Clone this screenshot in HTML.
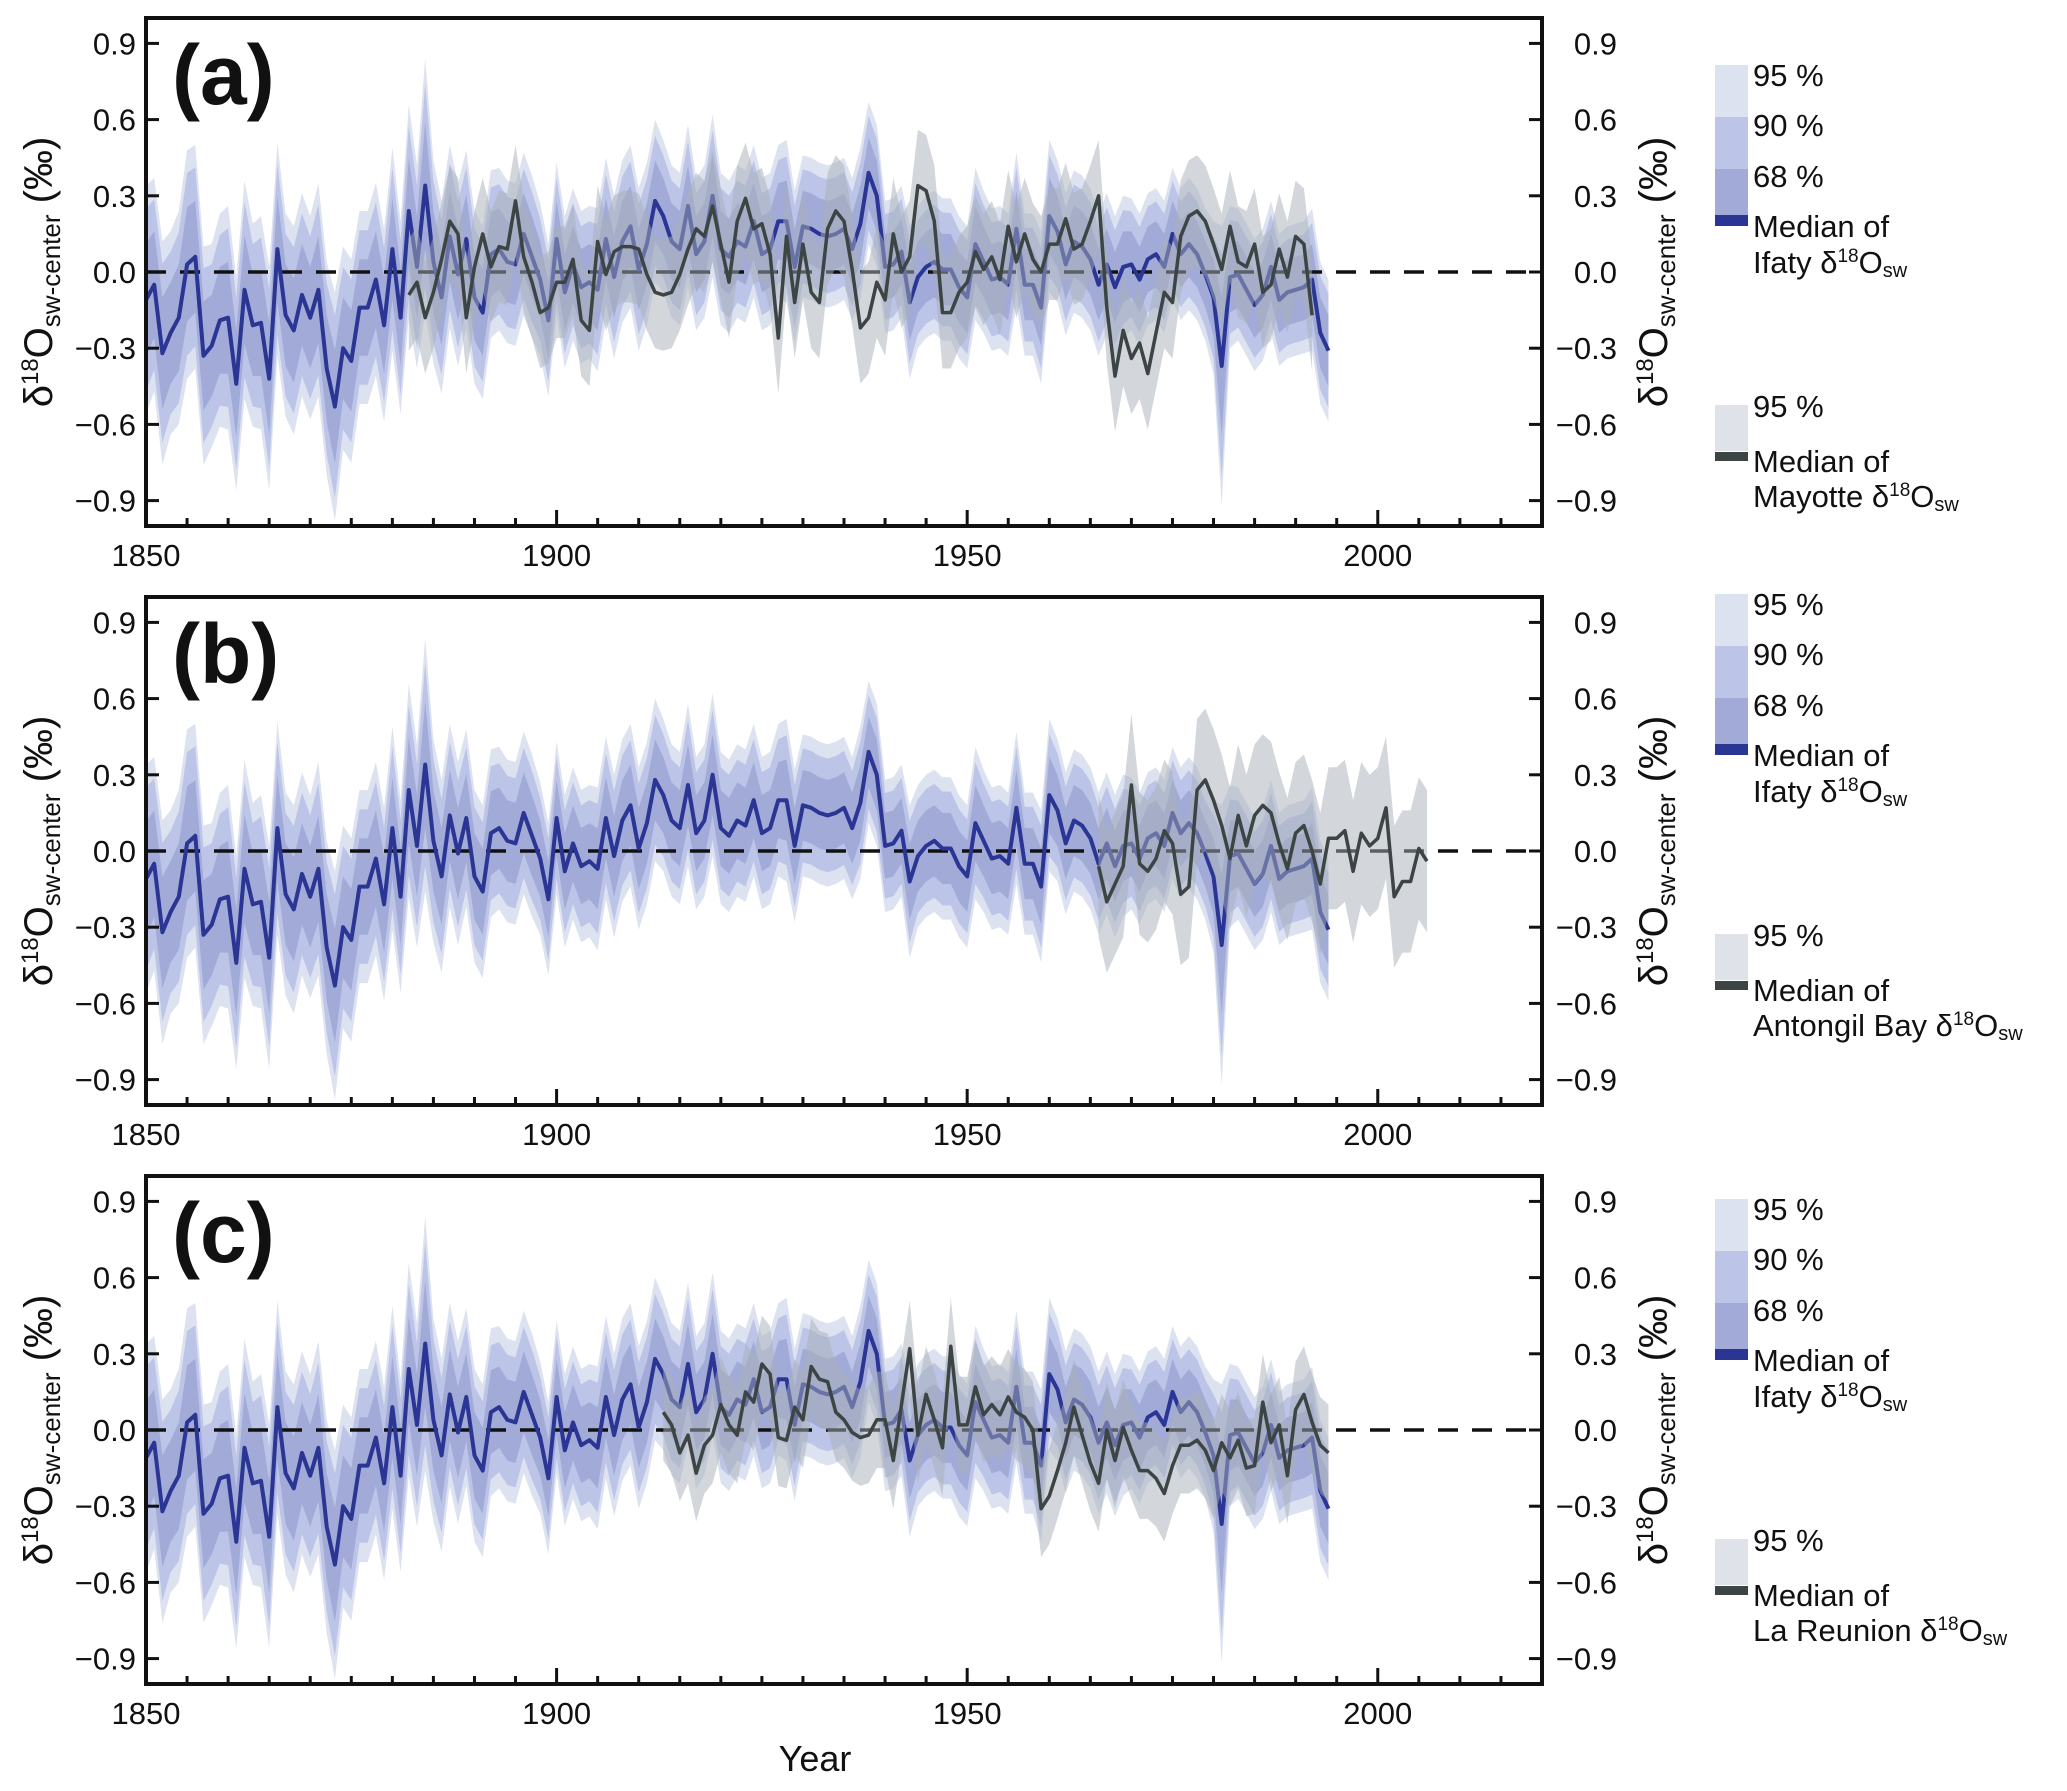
<!DOCTYPE html>
<html><head><meta charset="utf-8"><style>
html,body{margin:0;padding:0;background:#fff;}
svg{display:block;font-family:"Liberation Sans",Arial,sans-serif;}
</style></head><body>
<svg id="chart" width="2067" height="1791" viewBox="0 0 2067 1791" xmlns="http://www.w3.org/2000/svg"></svg>
<script>
// ---- data ----
const ifatyStart = 1850;
const ifatyMedian = [
-0.11,-0.05,-0.32,-0.24,-0.18,0.03,0.06,-0.33,-0.29,-0.19,
-0.18,-0.44,-0.07,-0.21,-0.20,-0.42,0.09,-0.17,-0.23,-0.09,
-0.18,-0.07,-0.38,-0.53,-0.30,-0.35,-0.14,-0.14,-0.03,-0.21,
0.09,-0.18,0.24,0.02,0.34,0.04,-0.10,0.14,-0.01,0.13,
-0.10,-0.16,0.07,0.09,0.04,0.03,0.15,0.06,-0.03,-0.19,
0.13,-0.08,0.03,-0.06,-0.04,-0.07,0.13,-0.02,0.12,0.18,
0.01,0.11,0.28,0.22,0.12,0.09,0.26,0.07,0.12,0.30,
0.09,0.06,0.12,0.10,0.20,0.07,0.09,0.20,0.20,0.02,
0.18,0.17,0.15,0.14,0.15,0.17,0.09,0.19,0.39,0.30,
0.02,0.03,0.08,-0.12,-0.02,0.02,0.04,0.01,0.01,-0.06,
-0.10,0.11,0.04,-0.03,-0.02,-0.05,0.17,-0.05,-0.05,-0.14,
0.22,0.16,0.03,0.12,0.10,0.05,-0.05,0.03,-0.06,0.02,
0.03,-0.03,0.05,0.07,0.02,0.15,0.07,0.11,0.07,-0.01,
-0.10,-0.37,-0.02,-0.01,-0.07,-0.13,-0.09,0.02,-0.11,-0.08,
-0.07,-0.06,-0.03,-0.24,-0.31];
const ifatyHalf95 = [
.45,.42,.44,.40,.42,.45,.44,.43,.40,.42,
.44,.42,.43,.40,.42,.44,.42,.40,.41,.40,
.40,.42,.42,.45,.40,.40,.38,.38,.38,.38,
.40,.38,.42,.40,.50,.40,.38,.36,.36,.35,
.34,.34,.33,.32,.32,.32,.32,.32,.30,.30,
.30,.30,.30,.30,.30,.32,.32,.32,.32,.32,
.32,.32,.32,.30,.30,.30,.32,.30,.30,.32,
.30,.30,.30,.30,.30,.30,.30,.30,.32,.30,
.28,.28,.28,.28,.28,.28,.28,.30,.28,.28,
.26,.26,.26,.30,.28,.28,.28,.28,.28,.28,
.28,.30,.28,.28,.28,.28,.30,.28,.28,.30,
.30,.28,.28,.28,.28,.28,.28,.28,.28,.28,
.26,.26,.26,.26,.26,.26,.26,.26,.26,.26,
.30,.55,.28,.26,.26,.26,.26,.26,.26,.26,
.26,.26,.28,.28,.28];
const band90Ratio = 0.8;
const band68Ratio = 0.5;

const mayotteStart = 1882;
const mayotteMedian = [
-0.09,-0.04,-0.18,-0.08,0.05,0.20,0.15,-0.18,
0.02,0.15,0.02,0.10,0.09,0.28,0.06,-0.04,-0.16,-0.14,
-0.04,-0.04,0.05,-0.19,-0.23,0.12,-0.01,0.08,0.10,0.10,
0.09,-0.01,-0.08,-0.09,-0.08,-0.01,0.09,0.17,0.14,0.26,
0.11,-0.04,0.20,0.29,0.17,0.19,0.07,-0.26,0.14,-0.12,
0.11,-0.08,-0.12,0.17,0.24,0.20,0.01,-0.22,-0.18,-0.04,
-0.11,0.15,0.00,0.06,0.34,0.32,0.20,-0.16,-0.16,-0.08,
-0.04,0.08,0.01,0.06,-0.03,0.18,0.04,0.15,0.05,0.00,
0.11,0.11,0.21,0.09,0.11,0.20,0.30,-0.14,-0.41,-0.23,
-0.34,-0.28,-0.40,-0.24,-0.08,-0.12,0.14,0.22,0.24,0.20,
0.11,0.01,0.18,0.04,0.02,0.11,-0.08,-0.05,0.09,-0.02,
0.14,0.11,-0.17];
const mayotteHalf95 = 0.22;

const antongilStart = 1966;
const antongilMedian = [
-0.06,-0.20,-0.13,-0.06,0.26,-0.05,-0.08,-0.03,0.08,0.03,
-0.17,-0.14,0.24,0.28,0.20,0.10,-0.03,0.14,0.02,0.14,
0.18,0.15,0.03,-0.07,0.07,0.10,0.00,-0.13,0.05,0.05,
0.08,-0.08,0.07,0.02,0.05,0.17,-0.18,-0.12,-0.12,0.01,-0.04];
const antongilHalf95 = 0.28;

const reunionStart = 1913;
const reunionMedian = [
0.07,0.02,-0.09,-0.02,-0.17,-0.06,-0.02,0.10,0.02,-0.02,
0.15,0.11,0.26,0.22,-0.03,-0.04,0.09,0.04,0.25,0.20,
0.19,0.07,0.04,-0.01,-0.03,-0.02,0.04,0.04,-0.12,0.10,
0.32,-0.02,0.14,0.04,-0.07,0.33,0.02,0.02,0.17,0.06,
0.10,0.06,0.13,0.07,0.05,0.00,-0.31,-0.26,-0.16,-0.05,
0.09,-0.02,-0.13,-0.21,0.00,-0.12,0.01,-0.08,-0.16,-0.16,
-0.19,-0.25,-0.14,-0.06,-0.06,-0.04,-0.08,-0.16,-0.05,-0.11,
-0.04,-0.15,-0.14,0.11,-0.05,0.02,-0.18,0.08,0.14,0.03,
-0.06,-0.09];
const reunionHalf95 = 0.19;

const yTicks = [0.9,0.6,0.3,0.0,-0.3,-0.6,-0.9];
const yTickLabels = ["0.9","0.6","0.3","0.0","\u22120.3","\u22120.6","\u22120.9"];
const xMajorTicks = [1850,1900,1950,2000];
const panelLetters = ["(a)","(b)","(c)"];
const siteNames = ["Mayotte","Antongil Bay","La Reunion"];

// ---- layout ----
const NS = "http://www.w3.org/2000/svg";
const svg = document.getElementById("chart");
const X0 = 146, X1 = 1542, XMIN = 1850, XMAX = 2020;
const PANEL_TOPS = [18, 597, 1176], PH = 508;
const LEGEND_OFF = [0, 529, 1134];
function xs(yr){ return X0 + (yr - XMIN) / (XMAX - XMIN) * (X1 - X0); }
function ysFn(top){ return v => top + (1 - v) / 2 * PH; }
function el(tag, attrs, parent){
  const e = document.createElementNS(NS, tag);
  for (const k in attrs) e.setAttribute(k, attrs[k]);
  (parent || svg).appendChild(e);
  return e;
}
function bandPath(start, med, half, k, ys){
  const up = [], lo = [];
  med.forEach((v,i)=>{
    const h = (typeof half === "number" ? half : half[i]) * k;
    up.push(xs(start+i).toFixed(1)+","+ys(v+h).toFixed(1));
    lo.push(xs(start+i).toFixed(1)+","+ys(v-h).toFixed(1));
  });
  return "M" + up.join("L") + "L" + lo.reverse().join("L") + "Z";
}
function linePath(start, med, ys){
  return "M" + med.map((v,i)=>xs(start+i).toFixed(1)+","+ys(v).toFixed(1)).join("L");
}

const graySeries = [
  {start: mayotteStart, med: mayotteMedian, half: mayotteHalf95},
  {start: antongilStart, med: antongilMedian, half: antongilHalf95},
  {start: reunionStart, med: reunionMedian, half: reunionHalf95}
];

PANEL_TOPS.forEach((top, p) => {
  const ys = ysFn(top);
  const g = el("g", {});
  
  
  const defs = el("clipPath", {id: "clip"+p}, g);
  el("rect", {x: X0, y: top, width: X1-X0, height: PH}, defs);
  const plot = el("g", {"clip-path": "url(#clip"+p+")"}, g);

  const b95 = el("path", {d: bandPath(ifatyStart, ifatyMedian, ifatyHalf95, 1, ys), fill: "#dde2f0"}, plot);
  
  
  const b90 = el("path", {d: bandPath(ifatyStart, ifatyMedian, ifatyHalf95, band90Ratio, ys), fill: "#bcc5e7"}, plot);
  
  
  const b68 = el("path", {d: bandPath(ifatyStart, ifatyMedian, ifatyHalf95, band68Ratio, ys), fill: "#a2abd7"}, plot);
  
  

  const zero = el("line", {x1: X0, x2: X1, y1: ys(0), y2: ys(0), stroke: "#111", "stroke-width": 3.5, "stroke-dasharray": "20 14"}, plot);
  
  

  const ml = el("path", {d: linePath(ifatyStart, ifatyMedian, ys), fill: "none", stroke: "#2a3594", "stroke-width": 4, "stroke-linejoin": "round"}, plot);
  
  

  const gs = graySeries[p];
  const gb = el("path", {d: bandPath(gs.start, gs.med, gs.half, 1, ys), fill: "#a8b0b8", "fill-opacity": 0.5}, plot);
  
  
  const gl = el("path", {d: linePath(gs.start, gs.med, ys), fill: "none", stroke: "#3c4444", "stroke-width": 3.5, "stroke-linejoin": "round"}, plot);
  
  

  const fr = el("rect", {x: X0, y: top, width: X1-X0, height: PH, fill: "none", stroke: "#111", "stroke-width": 4}, g);
  
  

  yTicks.forEach((v,i)=>{
    el("line", {x1: X0, x2: X0+13, y1: ys(v), y2: ys(v), stroke: "#111", "stroke-width": 3}, g);
    el("line", {x1: X1-13, x2: X1, y1: ys(v), y2: ys(v), stroke: "#111", "stroke-width": 3}, g);
    const tl = el("text", {x: 136, y: ys(v)+11, "text-anchor": "end", "font-size": 31, fill: "#111"}, g);
    tl.textContent = yTickLabels[i];
    
    
    const tr = el("text", {x: 1617, y: ys(v)+11, "text-anchor": "end", "font-size": 31, fill: "#111"}, g);
    tr.textContent = yTickLabels[i];
    
    
  });
  for (let yr = XMIN+5; yr < XMAX; yr += 5){
    const major = xMajorTicks.indexOf(yr) >= 0;
    el("line", {x1: xs(yr), x2: xs(yr), y1: top+PH, y2: top+PH-(major?16:8), stroke: "#111", "stroke-width": 3}, g);
  }
  xMajorTicks.forEach(yr=>{
    const t = el("text", {x: xs(yr), y: top+PH+40, "text-anchor": "middle", "font-size": 31, fill: "#111"}, g);
    t.textContent = yr;
    
    
  });

  const pl = el("text", {x: 172, y: top+86, "font-size": 84, "font-weight": "bold", fill: "#111"}, g);
  pl.textContent = panelLetters[p];
  
  

  [[40,"left-y-axis-title"],[1655,"right-y-axis-title"]].forEach(([cx,nm])=>{
    const t = el("text", {transform: "translate("+(cx+12)+","+(top+PH/2)+") rotate(-90)", "text-anchor": "middle", "font-size": 40, fill: "#111"}, g);
    t.innerHTML = '\u03b4<tspan font-size="24" dy="-14">18</tspan><tspan dy="14">O</tspan><tspan font-size="26" dy="8">sw-center</tspan><tspan dy="-8"> (\u2030)</tspan>';
    
    
  });

  const L = el("g", {transform: "translate(0,"+LEGEND_OFF[p]+")"}, g);
  
  
  const sw = [[65,52,"#dde2f0"],[117,52,"#bcc5e7"],[169,46,"#a2abd7"],[215,11,"#2a3594"],[405,46,"#e0e2ea"],[452,9,"#3c4444"]];
  sw.forEach(([y,h,c])=>{
    const r = el("rect", {x: 1715, y: y, width: 33, height: h, fill: c}, L);
    
    
  });
  const txt = [[86,"95 %"],[136,"90 %"],[187,"68 %"],[237,"Median of"],[273,"Ifaty δ<tspan font-size='19' dy='-11'>18</tspan><tspan dy='11'>O</tspan><tspan font-size='20' dy='4'>sw</tspan>"],
               [417,"95 %"],[472,"Median of"],[507, siteNames[p] + " δ<tspan font-size='19' dy='-11'>18</tspan><tspan dy='11'>O</tspan><tspan font-size='20' dy='4'>sw</tspan>"]];
  txt.forEach(([y,s])=>{
    const t = el("text", {x: 1753, y: y, "font-size": 31, fill: "#111"}, L);
    t.innerHTML = s;
    
    
  });
});

const xt = el("text", {x: 815, y: 1771, "text-anchor": "middle", "font-size": 36, fill: "#111"});
xt.textContent = "Year";


</script>
</body></html>
